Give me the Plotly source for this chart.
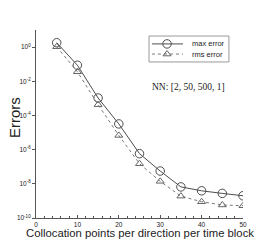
import plotly.graph_objects as go

points = [5, 10, 15, 20, 25, 30, 35, 40, 45, 50]
max_error = [1.8, 8.7e-2, 1.05e-3, 3.2e-5, 5.8e-7, 5.6e-8, 6.6e-9, 3.9e-9, 2.75e-9, 2.0e-9]
rms_error = [1.05, 3.6e-2, 4.3e-4, 6.8e-6, 1.5e-7, 1.4e-8, 1.9e-9, 8.9e-10, 5.8e-10, 5.2e-10]
series_names = ["max error", "rms error"]
ytick_vals = [1, 1e-2, 1e-4, 1e-6, 1e-8, 1e-10]
ytick_text = ["10<sup>0</sup>", "10<sup>-2</sup>", "10<sup>-4</sup>", "10<sup>-6</sup>", "10<sup>-8</sup>", "10<sup>-10</sup>"]

max_style = dict(line=dict(color="#4d4d4d", width=1),
                 marker=dict(symbol="circle-open", size=8.5, color="#4d4d4d", line=dict(width=1)))
rms_style = dict(line=dict(color="#777777", width=1, dash="dot"),
                 marker=dict(symbol="triangle-up-open", size=7, color="#666666", line=dict(width=1)))

fig = go.Figure()
fig.add_trace(go.Scatter(x=points, y=max_error, mode="lines+markers", name=series_names[0],
                         showlegend=False, **max_style))
fig.add_trace(go.Scatter(x=points, y=rms_error, mode="lines+markers", name=series_names[1],
                         showlegend=False, **rms_style))

# custom compact legend (overlay axes spanning the plot area)
lx0, lx1, ly0, ly1 = 0.546, 0.932, 0.830, 0.968
rows = [0.926, 0.872]
fig.add_shape(type="rect", xref="paper", yref="paper", x0=lx0, x1=lx1, y0=ly0, y1=ly1,
              line=dict(color="#999999", width=1), fillcolor="rgba(0,0,0,0)", layer="below")
for row, style, name in zip(rows, [max_style, rms_style], series_names):
    fig.add_trace(go.Scatter(x=[0.560, 0.633, 0.710], y=[row, row, row], xaxis="x2", yaxis="y2",
                             mode="lines", showlegend=False, hoverinfo="skip", line=style["line"]))
    fig.add_trace(go.Scatter(x=[0.633], y=[row], xaxis="x2", yaxis="y2", mode="markers",
                             showlegend=False, hoverinfo="skip", marker=style["marker"]))
    fig.add_annotation(x=0.744, y=row, xref="paper", yref="paper", xanchor="left", yanchor="middle",
                       text=name, showarrow=False, font=dict(size=7.5, color="#222222"))

fig.add_annotation(x=0.739, y=0.697, xref="paper", yref="paper", xanchor="center", yanchor="middle",
                   text="NN: [2, 50, 500, 1]", showarrow=False,
                   font=dict(family="Liberation Serif", size=9.5, color="#222222"))

# axis titles
fig.add_annotation(x=0.5, y=-0.079, xref="paper", yref="paper", xanchor="center", yanchor="middle",
                   text="Collocation points per direction per time block", showarrow=False,
                   borderpad=0, font=dict(size=11.3, color="#222222"))
fig.add_annotation(x=-0.101, y=0.532, xref="paper", yref="paper", xanchor="center", yanchor="middle",
                   text="Errors", textangle=-90, showarrow=False,
                   font=dict(size=15, color="#222222"))

fig.update_layout(
    width=277, height=246,
    margin=dict(l=36, r=34, t=30, b=28, autoexpand=False),
    paper_bgcolor="white", plot_bgcolor="white",
    font=dict(family="Liberation Sans, Arial", color="#222222"),
    showlegend=False,
    xaxis=dict(range=[0, 50], tickvals=[0, 10, 20, 30, 40, 50], ticks="inside", ticklen=3,
               minor=dict(dtick=2, ticks="inside", ticklen=2, tickcolor="#555555"),
               showline=True, linecolor="#555555", linewidth=1, tickcolor="#555555",
               showgrid=False, zeroline=False, tickfont=dict(size=6.5), automargin=False),
    yaxis=dict(type="log", range=[-10, 1], tickvals=ytick_vals, ticktext=ytick_text,
               ticks="outside", ticklen=3, tickcolor="#555555",
               showline=True, linecolor="#555555", linewidth=1, automargin=False,
               showgrid=False, zeroline=False, tickfont=dict(size=6.5)),
    xaxis2=dict(overlaying="x", range=[0, 1], visible=False, fixedrange=True),
    yaxis2=dict(overlaying="y", range=[0, 1], visible=False, fixedrange=True),
)
# remove the page's default 8px body margin so the figure fills the window exactly
fig.write_html("out.html", config={"displayModeBar": False},
               post_script="document.body.style.margin='0px';")
